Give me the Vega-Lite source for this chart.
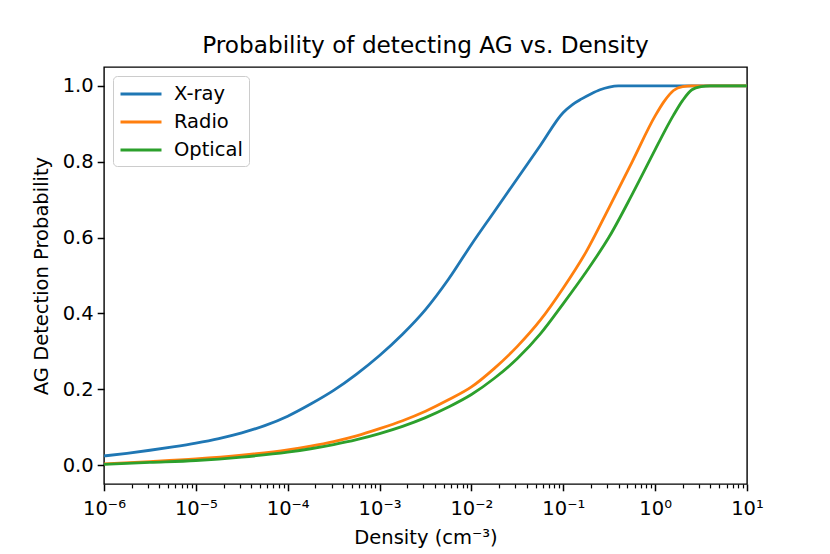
{
  "$schema": "https://vega.github.io/schema/vega-lite/v6.json",
  "autosize": "none",
  "width": 643,
  "height": 417,
  "padding": {"left": 104, "top": 67, "right": 83, "bottom": 70},
  "background": "white",
  "title": {"text": "Probability of detecting AG vs. Density", "font": "DejaVu Sans", "fontSize": 23.2, "fontWeight": "normal", "color": "black", "offset": 9},
  "config": {
    "view": {"stroke": "black", "strokeWidth": 1.4},
    "axis": {"grid": false, "domain": false, "labelFont": "DejaVu Sans", "titleFont": "DejaVu Sans", "labelFontSize": 19.5, "titleFontSize": 19.5, "titleFontWeight": "normal", "labelColor": "black", "titleColor": "black", "tickColor": "black"},
    "legend": {"labelFont": "DejaVu Sans", "labelFontSize": 19.5, "labelColor": "black"}
  },
  "data": {"values": [
    {"x": 0.000001, "p": 0.024, "s": "X-ray"},
    {"x": 0.000001778, "p": 0.031, "s": "X-ray"},
    {"x": 0.000003162, "p": 0.039, "s": "X-ray"},
    {"x": 0.000005623, "p": 0.048, "s": "X-ray"},
    {"x": 0.00001, "p": 0.058, "s": "X-ray"},
    {"x": 0.00001778, "p": 0.070, "s": "X-ray"},
    {"x": 0.00003162, "p": 0.085, "s": "X-ray"},
    {"x": 0.00005623, "p": 0.104, "s": "X-ray"},
    {"x": 0.0001, "p": 0.129, "s": "X-ray"},
    {"x": 0.0001778, "p": 0.161, "s": "X-ray"},
    {"x": 0.0003162, "p": 0.197, "s": "X-ray"},
    {"x": 0.0005623, "p": 0.240, "s": "X-ray"},
    {"x": 0.001, "p": 0.289, "s": "X-ray"},
    {"x": 0.001778, "p": 0.345, "s": "X-ray"},
    {"x": 0.003162, "p": 0.41, "s": "X-ray"},
    {"x": 0.005623, "p": 0.49, "s": "X-ray"},
    {"x": 0.01, "p": 0.582, "s": "X-ray"},
    {"x": 0.01778, "p": 0.669, "s": "X-ray"},
    {"x": 0.03162, "p": 0.756, "s": "X-ray"},
    {"x": 0.05623, "p": 0.843, "s": "X-ray"},
    {"x": 0.1, "p": 0.93, "s": "X-ray"},
    {"x": 0.1259, "p": 0.951, "s": "X-ray"},
    {"x": 0.1585, "p": 0.966, "s": "X-ray"},
    {"x": 0.1995, "p": 0.979, "s": "X-ray"},
    {"x": 0.2512, "p": 0.99, "s": "X-ray"},
    {"x": 0.3162, "p": 0.997, "s": "X-ray"},
    {"x": 0.3981, "p": 1.0, "s": "X-ray"},
    {"x": 10, "p": 1.0, "s": "X-ray"},
    {"x": 0.000001, "p": 0.003, "s": "Radio"},
    {"x": 0.000003162, "p": 0.009, "s": "Radio"},
    {"x": 0.00001, "p": 0.016, "s": "Radio"},
    {"x": 0.00003162, "p": 0.026, "s": "Radio"},
    {"x": 0.0001, "p": 0.040, "s": "Radio"},
    {"x": 0.0001778, "p": 0.050, "s": "Radio"},
    {"x": 0.0003162, "p": 0.062, "s": "Radio"},
    {"x": 0.0005623, "p": 0.077, "s": "Radio"},
    {"x": 0.001, "p": 0.096, "s": "Radio"},
    {"x": 0.001778, "p": 0.117, "s": "Radio"},
    {"x": 0.003162, "p": 0.142, "s": "Radio"},
    {"x": 0.005623, "p": 0.172, "s": "Radio"},
    {"x": 0.01, "p": 0.206, "s": "Radio"},
    {"x": 0.01778, "p": 0.255, "s": "Radio"},
    {"x": 0.03162, "p": 0.313, "s": "Radio"},
    {"x": 0.05623, "p": 0.382, "s": "Radio"},
    {"x": 0.1, "p": 0.467, "s": "Radio"},
    {"x": 0.1778, "p": 0.563, "s": "Radio"},
    {"x": 0.3162, "p": 0.68, "s": "Radio"},
    {"x": 0.5623, "p": 0.80, "s": "Radio"},
    {"x": 1.0, "p": 0.921, "s": "Radio"},
    {"x": 1.2589, "p": 0.96, "s": "Radio"},
    {"x": 1.5849, "p": 0.988, "s": "Radio"},
    {"x": 1.9953, "p": 0.998, "s": "Radio"},
    {"x": 2.5119, "p": 1.0, "s": "Radio"},
    {"x": 10, "p": 1.0, "s": "Radio"},
    {"x": 0.000001, "p": 0.002, "s": "Optical"},
    {"x": 0.000003162, "p": 0.007, "s": "Optical"},
    {"x": 0.00001, "p": 0.012, "s": "Optical"},
    {"x": 0.00003162, "p": 0.021, "s": "Optical"},
    {"x": 0.0001, "p": 0.034, "s": "Optical"},
    {"x": 0.0001778, "p": 0.043, "s": "Optical"},
    {"x": 0.0003162, "p": 0.054, "s": "Optical"},
    {"x": 0.0005623, "p": 0.067, "s": "Optical"},
    {"x": 0.001, "p": 0.083, "s": "Optical"},
    {"x": 0.001778, "p": 0.102, "s": "Optical"},
    {"x": 0.003162, "p": 0.125, "s": "Optical"},
    {"x": 0.005623, "p": 0.153, "s": "Optical"},
    {"x": 0.01, "p": 0.186, "s": "Optical"},
    {"x": 0.01778, "p": 0.229, "s": "Optical"},
    {"x": 0.03162, "p": 0.281, "s": "Optical"},
    {"x": 0.05623, "p": 0.346, "s": "Optical"},
    {"x": 0.1, "p": 0.426, "s": "Optical"},
    {"x": 0.1778, "p": 0.51, "s": "Optical"},
    {"x": 0.3162, "p": 0.602, "s": "Optical"},
    {"x": 0.5623, "p": 0.714, "s": "Optical"},
    {"x": 1.0, "p": 0.832, "s": "Optical"},
    {"x": 1.2589, "p": 0.879, "s": "Optical"},
    {"x": 1.5849, "p": 0.923, "s": "Optical"},
    {"x": 1.9953, "p": 0.962, "s": "Optical"},
    {"x": 2.5119, "p": 0.99, "s": "Optical"},
    {"x": 3.1623, "p": 0.998, "s": "Optical"},
    {"x": 3.981, "p": 1.0, "s": "Optical"},
    {"x": 10, "p": 1.0, "s": "Optical"}
  ]},
  "mark": {"type": "line", "strokeWidth": 2.8, "clip": true, "interpolate": "monotone"},
  "encoding": {
    "x": {
      "field": "x", "type": "quantitative",
      "scale": {"type": "log", "domain": [0.000001, 10], "nice": false},
      "axis": {
        "title": "Density (cm⁻³)",
        "titlePadding": 10,
        "labelPadding": 9,
        "values": [0.000001,0.000002,0.000003,0.000004,0.000005,0.000006,0.000007,0.000008,0.000009,
                   0.00001,0.00002,0.00003,0.00004,0.00005,0.00006,0.00007,0.00008,0.00009,
                   0.0001,0.0002,0.0003,0.0004,0.0005,0.0006,0.0007,0.0008,0.0009,
                   0.001,0.002,0.003,0.004,0.005,0.006,0.007,0.008,0.009,
                   0.01,0.02,0.03,0.04,0.05,0.06,0.07,0.08,0.09,
                   0.1,0.2,0.3,0.4,0.5,0.6,0.7,0.8,0.9,
                   1,2,3,4,5,6,7,8,9,10],
        "labelExpr": "abs(log(datum.value)/LN10 - round(log(datum.value)/LN10)) < 0.000001 ? ['10⁻⁶','10⁻⁵','10⁻⁴','10⁻³','10⁻²','10⁻¹','10⁰','10¹'][round(log(datum.value)/LN10)+6] : ''",
        "tickSize": {"condition": {"test": "abs(log(datum.value)/LN10 - round(log(datum.value)/LN10)) < 0.000001", "value": 6.8}, "value": 3.9},
        "tickWidth": {"condition": {"test": "abs(log(datum.value)/LN10 - round(log(datum.value)/LN10)) < 0.000001", "value": 1.5}, "value": 1.2},
        "labelOverlap": false,
        "labelFlush": false
      }
    },
    "y": {
      "field": "p", "type": "quantitative",
      "scale": {"domain": [-0.05, 1.05], "nice": false, "zero": false},
      "axis": {"title": "AG Detection Probability", "values": [0, 0.2, 0.4, 0.6, 0.8, 1.0], "format": ".1f", "tickSize": 6.8, "tickWidth": 1.5, "labelPadding": 4, "titlePadding": 11}
    },
    "color": {
      "field": "s", "type": "nominal",
      "scale": {"domain": ["X-ray", "Radio", "Optical"], "range": ["#1f77b4", "#ff7f0e", "#2ca02c"]},
      "legend": {
        "title": null,
        "orient": "top-left",
        "offset": 9,
        "symbolType": "M-2,0H2",
        "symbolSize": 420,
        "symbolStrokeWidth": 2.8,
        "symbolOffset": 10,
        "labelOffset": 21,
        "rowPadding": 6,
        "padding": 6,
        "strokeColor": "#cccccc",
        "fillColor": "white",
        "cornerRadius": 4
      }
    }
  }
}
